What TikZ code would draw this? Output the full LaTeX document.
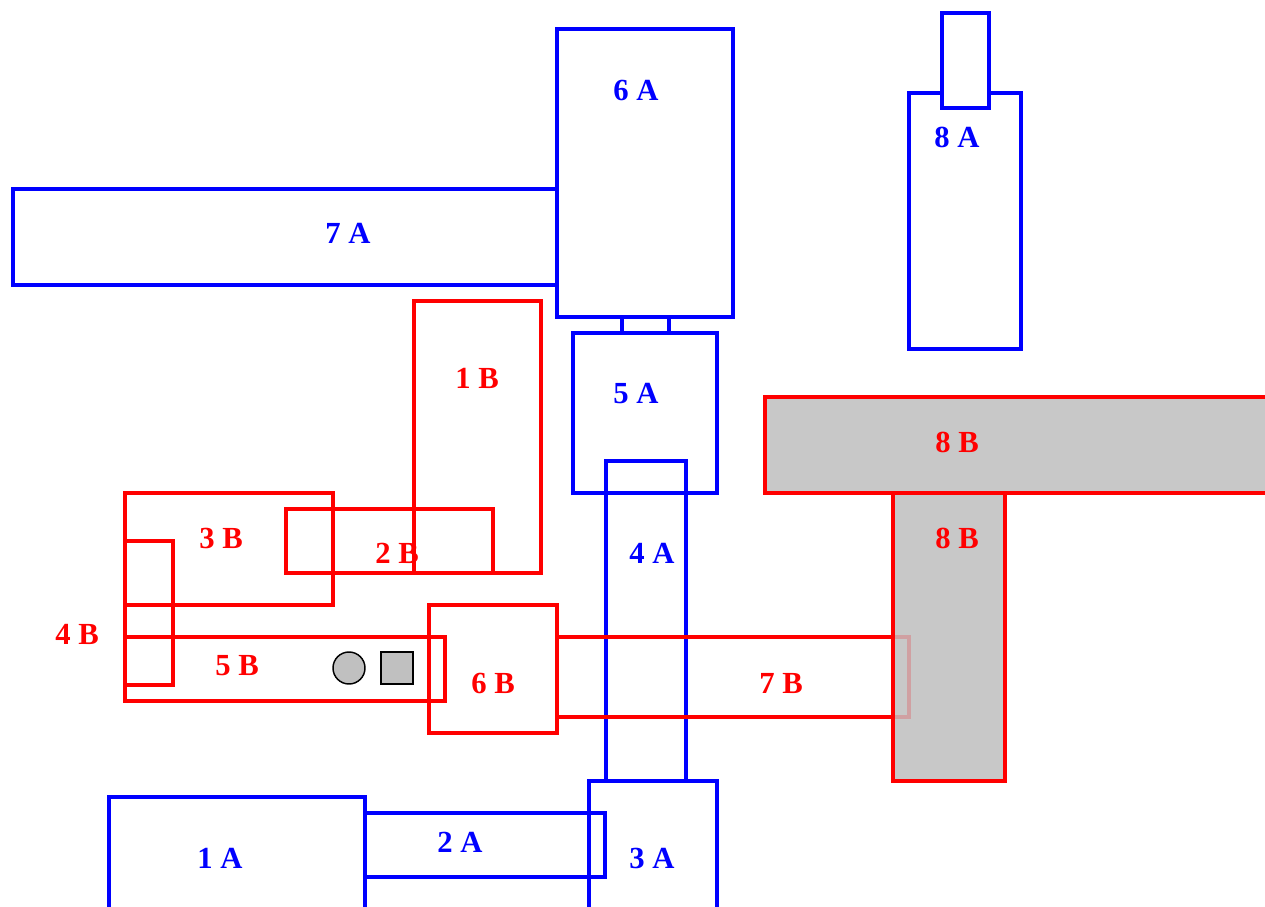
\documentclass[tikz,border=0pt]{standalone}
\usepackage{fontspec}
\setmainfont{Liberation Serif}
\definecolor{padgray}{RGB}{200,200,200}
\definecolor{knobgray}{RGB}{192,192,192}
\definecolor{faded}{RGB}{208,160,162}

\begin{document}
\begin{tikzpicture}[x=0.75pt, y=-0.75pt,
        boxA/.style={draw=blue, line width=3.5pt},
        boxB/.style={draw=red, line width=3.5pt},
        lab/.style={inner sep=0pt, font=\fontsize{23}{27}\selectfont\bfseries},
        labA/.style={lab, text=blue},
        labB/.style={lab, text=red},
        knb/.style={draw=black, line width=1.1pt, fill=knobgray}
    ]
    \clip (0,0) rectangle (1265,907);

    %% ---- A row (blue) ----
    \draw[boxA] (13,189) rectangle (557,285);   % 7 A
    \draw[boxA] (557,29) rectangle (733,317);   % 6 A
    \draw[boxA] (622,317) -- (622,333) (669,317) -- (669,333);
    \draw[boxA] (573,333) rectangle (717,493);  % 5 A
    \draw[boxA] (606,461) rectangle (686,781);  % 4 A
    \draw[boxA] (589,781) rectangle (717,930);  % 3 A
    \draw[boxA] (365,813) rectangle (605,877);  % 2 A
    \draw[boxA] (109,797) rectangle (365,930);  % 1 A
    \draw[boxA] (909,93) rectangle (1021,349);  % 8 A
    \draw[boxA, fill=white] (942,13) rectangle (989,108);

    \node[labA] (l6a) at (636,90)  {6 A};
    \node[labA] (l7a) at (348,233) {7 A};
    \node[labA] (l8a) at (957,137) {8 A};
    \node[labA] (l5a) at (636,394) {5 A};
    \node[labA] (l4a) at (652,553) {4 A};
    \node[labA] (l3a) at (652,858) {3 A};
    \node[labA] (l2a) at (460,842) {2 A};
    \node[labA] (l1a) at (220,858) {1 A};

    %% ---- B row (red) ----
    \draw[boxB] (414,301) rectangle (541,573);  % 1 B
    \draw[boxB] (286,509) rectangle (493,573);  % 2 B
    \draw[boxB] (125,493) rectangle (333,605);  % 3 B
    \draw[boxB] (125,541) rectangle (173,685);  % 4 B
    \draw[boxB] (125,637) rectangle (445,701);  % 5 B
    \draw[boxB] (429,605) rectangle (557,733);  % 6 B
    \draw[boxB] (557,637) rectangle (909,717);  % 7 B
    \draw[boxB, fill=padgray] (765,397) rectangle (1290,493);  % 8 B
    \fill[padgray] (893,493) rectangle (1005,781);
    % end of 7 B seen through 8 B
    \draw[boxB, draw=faded] (893,637) -- (909,637) -- (909,717) -- (893,717);
    \draw[boxB] (893,493) rectangle (1005,781);

    % knobs in 5 B
    \node[knb, circle, minimum size=24pt, inner sep=0pt] (kc) at (349,668) {};
    \node[knb, rectangle, minimum size=24pt, inner sep=0pt] (ks) at (397,668) {};

    \node[labB] (l1b) at (477,378) {1 B};
    \node[labB] (l2b) at (397,553) {2 B};
    \node[labB] (l3b) at (221,538) {3 B};
    \node[labB] (l4b) at (77,634)  {4 B};
    \node[labB] (l5b) at (237,666) {5 B};
    \node[labB] (l6b) at (493,683) {6 B};
    \node[labB] (l7b) at (781,683) {7 B};
    \node[labB] (l8b) at (957,442) {8 B};
    \node[labB] (l8c) at (957,538) {8 B};

\end{tikzpicture}
\end{document}
